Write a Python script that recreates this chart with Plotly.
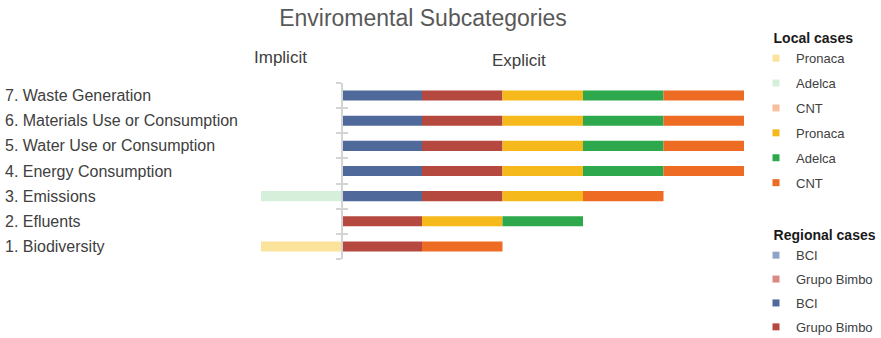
import plotly.graph_objects as go

# Environmental subcategories (bottom to top)
categories = [
    "1. Biodiversity",
    "2. Efluents",
    "3. Emissions",
    "4. Energy Consumption",
    "5. Water Use or Consumption",
    "6. Materials Use or Consumption",
    "7. Waste Generation",
]

# Implicit disclosure per company (drawn to the left of the axis)
implicit_bci = [0, 0, 0, 0, 0, 0, 0]
implicit_bimbo = [0, 0, 0, 0, 0, 0, 0]
implicit_pronaca = [1, 0, 0, 0, 0, 0, 0]
implicit_adelca = [0, 0, 1, 0, 0, 0, 0]
implicit_cnt = [0, 0, 0, 0, 0, 0, 0]

# Explicit disclosure per company (drawn to the right of the axis)
explicit_bci = [0, 0, 1, 1, 1, 1, 1]
explicit_bimbo = [1, 1, 1, 1, 1, 1, 1]
explicit_pronaca = [0, 1, 1, 1, 1, 1, 1]
explicit_adelca = [0, 1, 0, 1, 1, 1, 1]
explicit_cnt = [1, 0, 1, 1, 1, 1, 1]

FONT = "Liberation Sans, Arial, sans-serif"
W, H = 881, 338
rows = list(range(1, len(categories) + 1))

# (name, values, colour, legend, implicit?)
series = [
    ("BCI", implicit_bci, "#8ea5c7", "legend2", True),
    ("Grupo Bimbo", implicit_bimbo, "#d98a84", "legend2", True),
    ("Pronaca", implicit_pronaca, "#fbe39c", "legend", True),
    ("Adelca", implicit_adelca, "#d5efda", "legend", True),
    ("CNT", implicit_cnt, "#f7bfa0", "legend", True),
    ("BCI", explicit_bci, "#4f6a9a", "legend2", False),
    ("Grupo Bimbo", explicit_bimbo, "#b5493f", "legend2", False),
    ("Pronaca", explicit_pronaca, "#f6b91b", "legend", False),
    ("Adelca", explicit_adelca, "#2da84c", "legend", False),
    ("CNT", explicit_cnt, "#ee6b24", "legend", False),
]

fig = go.Figure()
for i, (name, vals, color, leg, is_implicit) in enumerate(series):
    xs = [-v for v in vals] if is_implicit else list(vals)
    # the bars themselves
    fig.add_trace(go.Bar(
        y=rows, x=xs, orientation="h", name=name,
        marker=dict(color=color, line=dict(width=0)),
        showlegend=False, legendgroup=f"g{i}",
        hoverinfo="name+y",
    ))
    # small square swatch for the legend entry
    fig.add_trace(go.Scatter(
        x=[None], y=[None], mode="markers", name=name,
        marker=dict(symbol="square", size=7, color=color),
        legend=leg, legendgroup=f"g{i}", hoverinfo="skip",
    ))

# invisible helper trace so the mirrored tick axis is rendered
fig.add_trace(go.Scatter(x=[None], y=[None], yaxis="y2", showlegend=False,
                         hoverinfo="skip"))

L, R, T, B = 261, 137, 83, 79
plot_w = W - L - R
plot_h = H - T - B
axis_pos = (0 - (-1)) / 6  # paper position of x = 0

boundaries = [r - 0.5 for r in rows] + [rows[-1] + 0.5]
axis_style = dict(
    range=[0.5, len(rows) + 0.5], anchor="free", position=axis_pos,
    tickvals=boundaries, showticklabels=False, showgrid=False,
    zeroline=False, tickcolor="#d4d4d4", tickwidth=1.5, ticklen=5,
    fixedrange=True,
)

legend_common = dict(
    xref="container", yref="container", xanchor="left", yanchor="top",
    font=dict(size=13, color="#404040", family=FONT),
    traceorder="grouped", bgcolor="rgba(0,0,0,0)", maxheight=1,
    itemclick=False, itemdoubleclick=False,
)

INDENT = "&nbsp;" * 4  # lines the legend headings up with the swatches

fig.update_layout(
    width=W, height=H,
    margin=dict(l=L, r=R, t=T, b=B, autoexpand=False),
    paper_bgcolor="white", plot_bgcolor="white",
    barmode="relative", bargap=0.6,
    font=dict(family=FONT, color="#404040"),
    xaxis=dict(range=[-1, 5], visible=False, fixedrange=True),
    yaxis=dict(**axis_style, ticks="outside", showline=True,
               linecolor="#d4d4d4", linewidth=1.5),
    yaxis2=dict(**axis_style, ticks="inside", overlaying="y", showline=False),
    title=dict(text="Enviromental Subcategories", x=423 / W, xanchor="center",
               y=1 - 18 / H, yanchor="middle",
               font=dict(size=23, color="#595959", family=FONT)),
    legend=dict(
        title=dict(text=INDENT + "<b>Local cases</b>",
                   font=dict(size=14, color="#1a1a1a")),
        x=756 / W, y=1 - 25 / H, tracegroupgap=5, **legend_common,
    ),
    legend2=dict(
        title=dict(text=INDENT + "<b>Regional cases</b>",
                   font=dict(size=14, color="#1a1a1a")),
        x=756 / W, y=1 - 222 / H, tracegroupgap=4, **legend_common,
    ),
    showlegend=True,
)

# column headers
fig.add_annotation(text="Implicit", x=-0.76, xref="x", y=1 + (T - 58) / plot_h,
                   yref="paper", yanchor="middle", showarrow=False,
                   font=dict(size=17, color="#404040"))
fig.add_annotation(text="Explicit", x=2.21, xref="x", y=1 + (T - 60) / plot_h,
                   yref="paper", yanchor="middle", showarrow=False,
                   font=dict(size=17, color="#404040"))

# left-aligned category labels
for r, label in zip(rows, categories):
    fig.add_annotation(text=label, x=(3 - L) / plot_w, xref="paper", xanchor="left",
                       y=r, yref="y", showarrow=False,
                       font=dict(size=16, color="#404040"))

fig.write_html("out.html")
